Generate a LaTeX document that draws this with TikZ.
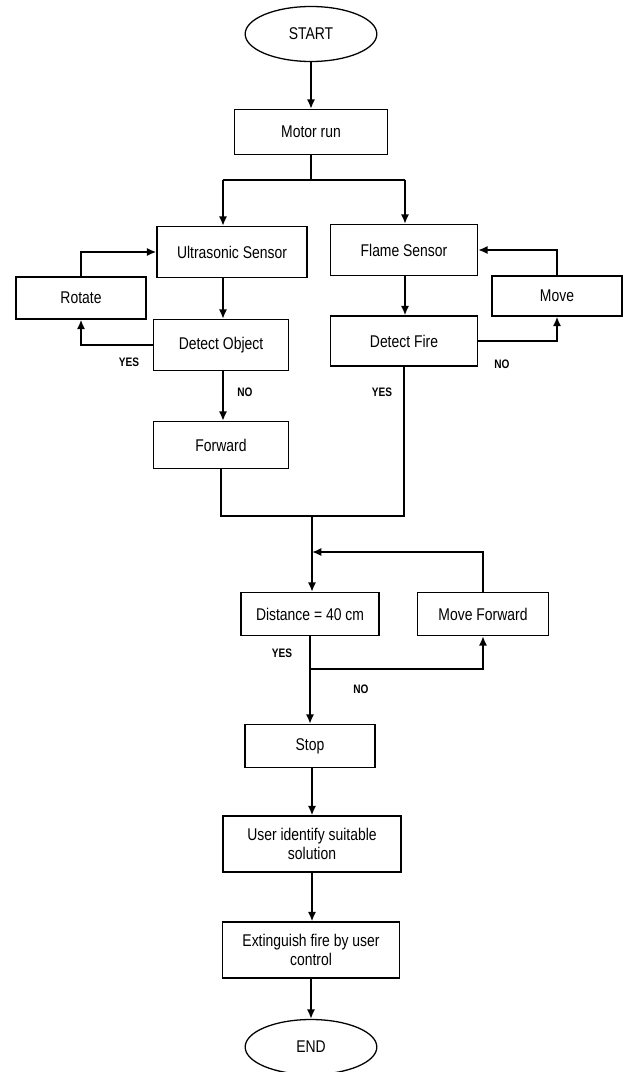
\documentclass[tikz,border=0pt]{standalone}
\usepackage{fontspec}
\setmainfont[FakeStretch=0.82]{Liberation Sans}
\usetikzlibrary{shapes.geometric, arrows.meta}
\tikzset{
	box/.style={draw=black, line width=1.1pt, rectangle, inner sep=0pt, align=center, font=\fontsize{14.5}{16}\selectfont},
	term/.style={draw=black, line width=1.1pt, ellipse, inner sep=0pt, minimum width=3.95cm, minimum height=1.65cm, font=\fontsize{14.5}{16}\selectfont},
	flow/.style={draw=black, line width=1.6pt, -{Latex[length=8pt, width=7pt]}},
	link/.style={draw=black, line width=1.6pt},
	lbl/.style={font=\bfseries\fontsize{10.5}{12}\selectfont, inner sep=0pt}
}
\begin{document}
\begin{tikzpicture}[x=0.03cm, y=-0.03cm]
	\useasboundingbox (0,0) rectangle (623,1072);
	% terminals and steps
	\node[term] (start) at (311,34) {START};
	\node[box, minimum width=4.59cm, minimum height=1.35cm] (motor) at (311,132) {Motor run};
	\node[box, minimum width=4.5cm, minimum height=1.53cm] (ultra) at (232,252) {Ultrasonic Sensor};
	\node[box, minimum width=3.9cm, minimum height=1.26cm] (rotate) at (81,298) {Rotate};
	\node[box, minimum width=4.05cm, minimum height=1.53cm] (detobj) at (221,345) {Detect Object};
	\node[box, minimum width=4.41cm, minimum height=1.53cm] (flame) at (404,250) {Flame Sensor};
	\node[box, minimum width=3.9cm, minimum height=1.2cm] (move) at (557,296) {Move};
	\node[box, minimum width=4.41cm, minimum height=1.5cm] (detfire) at (404,341) {Detect Fire};
	\node[box, minimum width=4.05cm, minimum height=1.41cm] (forward) at (221,445) {Forward};
	\node[box, minimum width=4.14cm, minimum height=1.29cm] (dist) at (310,614) {Distance = 40 cm};
	\node[box, minimum width=3.93cm, minimum height=1.29cm] (mvfwd) at (483,614) {Move Forward};
	\node[box, minimum width=3.9cm, minimum height=1.29cm] (stop) at (310,746) {Stop};
	\node[box, minimum width=5.34cm, minimum height=1.68cm] (user) at (312,844) {User identify suitable\\solution};
	\node[box, minimum width=5.31cm, minimum height=1.68cm] (ext) at (311,950) {Extinguish fire by user\\control};
	\node[term] (end) at (311,1047) {END};
	% labels
	\node[lbl] (yes1) at (129,362) {YES};
	\node[lbl] (no1) at (245,392) {NO};
	\node[lbl] (no2) at (502,364) {NO};
	\node[lbl] (yes2) at (382,392) {YES};
	\node[lbl] (yes3) at (282,653) {YES};
	\node[lbl] (no3) at (361,689) {NO};
	% junctions
	\coordinate (split) at (311,180);
	\coordinate (lft) at (223,180);
	\coordinate (rgt) at (405,180);
	\coordinate (merge) at (312,516);
	\coordinate (loopin) at (312,552);
	\coordinate (branch) at (310,669);
	\coordinate (mid) at (312,0);
	% connectors
	\draw[flow] (start) -- (motor);
	\draw[link] (motor.south) -- (split);
	\draw[link] (lft) -- (rgt);
	\draw[flow] (lft) -- (lft |- ultra.north);
	\draw[flow] (rgt) -- (rgt |- flame.north);
	\draw[flow] (rotate.north) |- (ultra.west);
	\draw[flow] (ultra.south -| lft) -- (detobj.north -| lft);
	\draw[flow] (detobj.west) -| (rotate.south);
	\draw[flow] (move.north) |- (flame.east);
	\draw[flow] (flame.south -| rgt) -- (detfire.north -| rgt);
	\draw[flow] (detfire.east) -| (move.south);
	\draw[flow] (detobj.south -| lft) -- (forward.north -| lft);
	\draw[link] (forward.south) -- (forward.south |- merge) -- (detfire.south |- merge) -- (detfire.south);
	\draw[flow] (merge) -- (merge |- dist.north);
	\draw[flow] (mvfwd.north) |- (loopin);
	\draw[flow] (dist.south) -- (stop.north);
	\draw[flow] (branch) -| (mvfwd.south);
	\draw[flow] (stop.south -| mid) -- (user.north -| mid);
	\draw[flow] (user.south -| mid) -- (ext.north -| mid);
	\draw[flow] (ext) -- (end);
\end{tikzpicture}
\end{document}
